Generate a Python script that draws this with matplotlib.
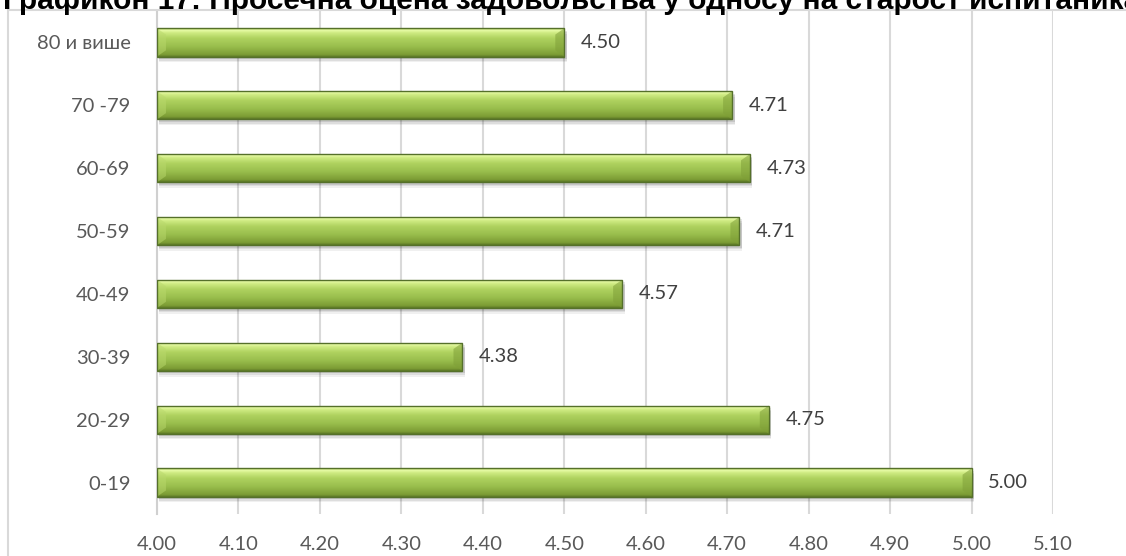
import matplotlib.pyplot as plt
from matplotlib.colors import LinearSegmentedColormap
from matplotlib.patches import Rectangle
import numpy as np

# data
categories = ['0-19', '20-29', '30-39', '40-49', '50-59', '60-69', '70 -79', '80 и више']
values = [5.00, 4.751, 4.375, 4.571, 4.715, 4.728, 4.706, 4.50]
xticks = [4.0, 4.1, 4.2, 4.3, 4.4, 4.5, 4.6, 4.7, 4.8, 4.9, 5.0, 5.1]
title = 'Графикон 17: Просечна оцена задовољства у односу на старост испитаника'

W, H = 1126, 556
fig = plt.figure(figsize=(W / 100, H / 100), dpi=100)
fig.patch.set_facecolor('white')

# outer chart frame (cut by the image edges on the right and bottom)
fig.patches.append(Rectangle((8 / W, -0.2), 1.5, 1 - 10 / H + 0.2, transform=fig.transFigure,
                             fill=False, edgecolor='#d9d9d9', lw=1.5))

ax = fig.add_axes([157 / W, 1 - 514 / H, (1053 - 157) / W, (514 - 11) / H])

grad = LinearSegmentedColormap.from_list('bar', [
    (0.0, '#5d7a26'), (0.08, '#7c9c35'), (0.35, '#98bd4c'),
    (0.65, '#afd25f'), (0.85, '#d0ec84'), (0.93, '#e8fca8'), (1.0, '#b0cf62')])

xmin = 4.0
bh = 0.45
y = np.arange(len(categories))
img = np.linspace(0, 1, 64).reshape(-1, 1)
fs = 14.5

for yi, v in zip(y, values):
    # soft shadow under the bar
    for k, a in [(0.09, 0.06), (0.065, 0.08), (0.04, 0.10)]:
        ax.add_patch(Rectangle((xmin + 0.003, yi - bh / 2 - k), v - xmin, bh,
                               facecolor='black', alpha=a, lw=0, zorder=2))
    r = Rectangle((xmin, yi - bh / 2), v - xmin, bh, facecolor='none',
                  edgecolor='#55702a', lw=1.0, zorder=4)
    ax.add_patch(r)
    im = ax.imshow(img, cmap=grad, aspect='auto', origin='lower',
                   extent=(xmin, v, yi - bh / 2, yi + bh / 2), zorder=3)
    im.set_clip_path(r)
    # bevelled ends
    e = 0.011
    ax.fill([v, v - e, v - e, v], [yi - bh / 2, yi - bh / 2 + 0.1, yi + bh / 2 - 0.1, yi + bh / 2],
            color='#7f9f38', alpha=0.55, lw=0, zorder=3.5)
    ax.fill([xmin, xmin + e, xmin + e, xmin], [yi + bh / 2, yi + bh / 2 - 0.1, yi - bh / 2 + 0.1, yi - bh / 2],
            color='#b9d86c', alpha=0.5, lw=0, zorder=3.5)
    ax.annotate(f'{v:.2f}', (v, yi), xytext=(12, 0), textcoords='offset points',
                ha='left', va='center', fontsize=fs, color='#404040', family='Lato')

ax.set_xlim(4.0, 5.1)
ax.set_ylim(-0.5, len(categories) - 0.5)
ax.set_xticks(xticks)
ax.set_xticklabels([f'{t:.2f}' for t in xticks])
ax.set_yticks(y)
ax.set_yticklabels(categories)
ax.tick_params(axis='both', length=0, labelsize=fs, colors='#595959')
ax.tick_params(axis='y', pad=19)
ax.tick_params(axis='x', pad=16)
for lab in ax.get_xticklabels() + ax.get_yticklabels():
    lab.set_family('Lato')
ax.grid(axis='x', color='#d9d9d9', lw=1.5, zorder=0)
ax.set_axisbelow(True)
for s in ['top', 'right', 'bottom']:
    ax.spines[s].set_visible(False)
ax.spines['left'].set_color('#d0d0d0')
ax.spines['left'].set_linewidth(1.5)
ax.set_facecolor('none')

fig.text(3 / W, 1 - 9 / H, title, ha='left', va='baseline', fontsize=21.5,
         fontweight='bold', family='Liberation Sans', color='black')

fig.savefig('out.png', dpi=100)
